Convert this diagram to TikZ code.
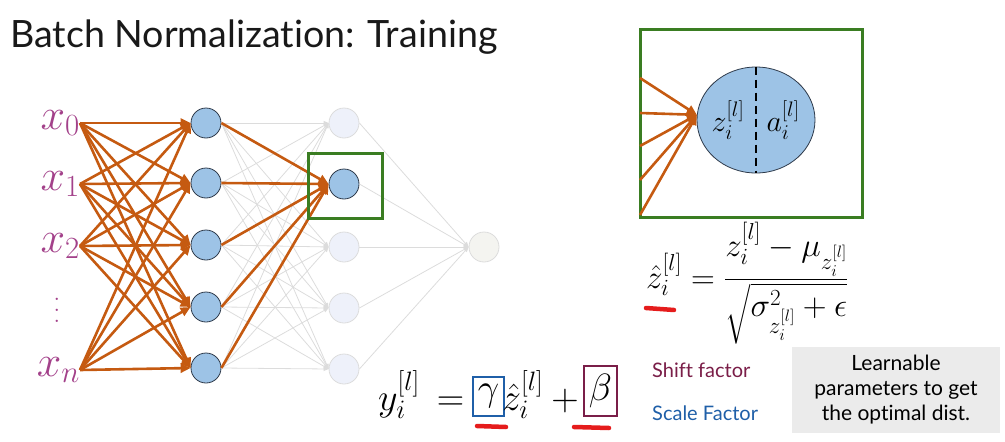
\RequirePackage{fix-cm}
\documentclass[tikz,border=0pt]{standalone}
\usepackage{amsmath}
\usepackage{fontspec}
\setmainfont{Lato}[Ligatures=NoCommon]
\usetikzlibrary{arrows.meta,positioning,shapes.geometric}
\definecolor{nodeblue}{HTML}{9DC3E6}
\definecolor{nodeline}{HTML}{2E3A4A}
\definecolor{fadefill}{HTML}{EEF1FA}
\definecolor{fadeline}{HTML}{DCDCDC}
\definecolor{outfill}{HTML}{F4F4F0}
\definecolor{wtorange}{HTML}{C55A11}
\definecolor{inputpink}{HTML}{A3418A}
\definecolor{boxgreen}{HTML}{3A7D22}
\definecolor{scaleblue}{HTML}{1F5FA8}
\definecolor{shiftred}{HTML}{7A1E48}
\definecolor{markred}{HTML}{E51C1C}
\definecolor{notegray}{HTML}{EBEBEB}
\newcommand{\tallvdots}{\vbox{\baselineskip=11pt\lineskiplimit=0pt\hbox{$.$}\hbox{$.$}\hbox{$.$}}}

\begin{document}
\begin{tikzpicture}[x=1pt, y=-1pt,
  live/.style={circle, draw=nodeline, fill=nodeblue, line width=0.8pt, minimum size=30pt, inner sep=0pt},
  faded/.style={circle, draw=fadeline, fill=#1, line width=0.8pt, minimum size=30pt, inner sep=0pt},
  inp/.style={text=inputpink, inner sep=0pt, font=\fontsize{44}{48}\selectfont},
  oarr/.style={-{Triangle[length=10pt,width=9pt]}, wtorange, line width=2.6pt},
  garr/.style={-{Triangle[length=5pt,width=4pt]}, fadeline, line width=0.8pt},
  frame/.style={draw=boxgreen, line width=3pt, inner sep=0pt},
  redmark/.style={draw=markred, line cap=round, line width=4.5pt},
  eq/.style={inner sep=0pt, font=\fontsize{#1}{#1}\selectfont},
  lbl/.style={inner sep=0pt, anchor=west, text=#1, font=\fontsize{20}{22}\selectfont}
]
  \useasboundingbox (0,0) rectangle (1005,442);

  % title
  \node[anchor=base west, inner sep=0pt, text=black!90, font=\fontsize{37.6}{42}\selectfont] (title) at (10,47) {Batch Normalization: Training};

  % inputs
  \node[inp, anchor=east] (x0) at (80,123) {$x_0$};
  \node[inp, anchor=east] (x1) at (80,184) {$x_1$};
  \node[inp, anchor=east] (x2) at (80,246) {$x_2$};
  \node[inp, font=\fontsize{24}{24}\selectfont] (xd) at (57,310) {\tallvdots};
  \node[inp, anchor=east] (xn) at (80,370) {$x_n$};

  % first hidden layer
  \foreach \k/\yy in {1/123,2/183,3/245,4/307,5/368}
    \node[live] (h\k) at (206,\yy) {};

  % second hidden layer
  \foreach \k/\yy in {1/123,3/247,4/308,5/369}
    \node[faded=fadefill] (g\k) at (344,\yy) {};
  \node[live] (g2) at (344,184) {};
  \node[faded=outfill] (o) at (484,247) {};

  % faint connections
  \foreach \h in {h1,h2,h3,h4,h5}{
    \foreach \g in {g1,g3,g4,g5}{
      \draw[garr] (\h.east) -- (\g.west);
    }
  }
  \foreach \g in {g1,g2,g3,g4,g5}{
    \draw[garr] (\g.east) -- (o.west);
  }

  % active connections
  \foreach \i in {x0,x1,x2,xn}{
    \foreach \h in {h1,h2,h3,h4,h5}{
      \draw[oarr] (\i.east) -- (\h.west);
    }
  }
  \foreach \h in {h1,h2,h3,h4,h5}{
    \draw[oarr] (\h.east) -- (g2.west);
  }
  \node[frame, minimum width=74pt, minimum height=65pt] (pick) at (345,185.5) {};

  % zoomed neuron
  \node[frame, minimum width=222pt, minimum height=188pt] (zoom) at (751,123) {};
  \node[ellipse, draw=nodeline, fill=nodeblue, line width=0.8pt, minimum width=118pt, minimum height=106pt, inner sep=0pt] (cell) at (756,120) {};
  \draw[black, line width=2.6pt, dash pattern=on 8pt off 5pt] (cell.north) -- (cell.south);
  \node[eq=30] (zl) at (728,120) {$z_i^{[l]}$};
  \node[eq=30] (al) at (783,120) {$a_i^{[l]}$};
  \foreach \yy [count=\k] in {78,113,146,180,215}{
    \coordinate (src\k) at (640,\yy);
    \draw[oarr] (src\k) -- (cell.175);
  }

  % normalisation
  \node[eq=33, anchor=base west] (norm) at (646,288)
    {$\hat{z}_i^{[l]} = \dfrac{z_i^{[l]} - \mu_{z_i^{[l]}}}{\sqrt{\sigma^2_{z_i^{[l]}} + \epsilon}}$};
  \draw[redmark] (646,308) -- (674,310);

  % scale and shift
  \node[eq=38, anchor=base west] (ylhs) at (378,410) {$y_i^{[l]}$};
  \node[eq=38, anchor=base] (eqs) at (450.5,410) {$=$};
  \node[eq=38, draw=scaleblue, line width=2.5pt, minimum width=31pt, minimum height=39pt] (gam) at (488.5,396.5) {$\gamma$};
  \node[eq=38, anchor=base west] (zh) at (502,410) {$\hat{z}_i^{[l]}$};
  \node[eq=38, anchor=base] (pl) at (565,410) {$+$};
  \node[eq=38, draw=shiftred, line width=2.5pt, minimum width=33pt, minimum height=50pt] (bet) at (600.5,391) {$\beta$};
  \draw[redmark] (477,426) -- (506,427);
  \draw[redmark] (574,427) -- (609,428);

  \node[lbl=shiftred] (shift) at (652,370) {Shift factor};
  \node[lbl=scaleblue] (scale) at (652,413) {Scale Factor};
  \node[fill=notegray, minimum width=208pt, minimum height=86pt, inner sep=0pt, align=center, font=\fontsize{21}{25}\selectfont] (note) at (896,390) {Learnable\\parameters to get\\the optimal dist.};
\end{tikzpicture}
\end{document}
